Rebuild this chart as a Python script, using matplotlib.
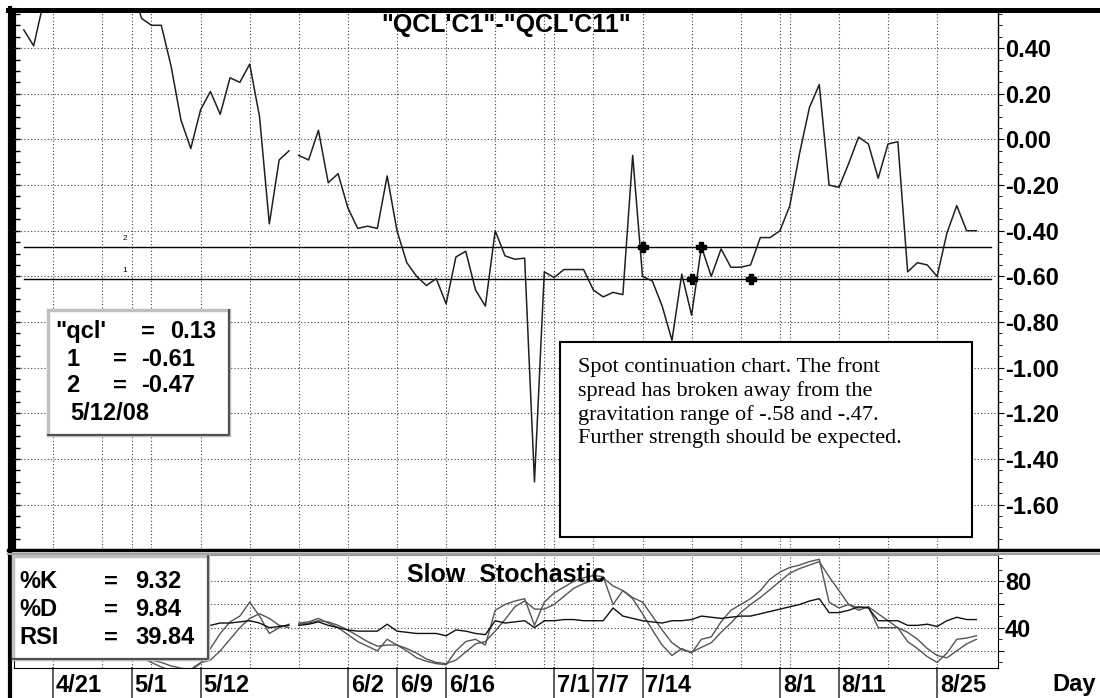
import numpy as np
import pandas as pd
import matplotlib
matplotlib.use("Agg")
import matplotlib.pyplot as plt
from matplotlib.patches import Rectangle
from matplotlib.lines import Line2D

plt.rcParams["font.family"] = ["Liberation Sans", "DejaVu Sans"]

# ---- data, one value per weekday 4/16/08 .. 8/29/08 ----
start_date, end_date = "2008-04-16", "2008-08-29"
gap_date = "2008-05-26"  # line is broken before this day

spread = [
    0.48, 0.41, 0.60, 0.72, 0.80, 0.85, 0.78, 0.82, 0.75, 0.80, 0.72, 0.66,
    0.53, 0.50, 0.50, 0.32, 0.085, -0.04, 0.13, 0.21, 0.11, 0.27, 0.25, 0.33,
    0.10, -0.37, -0.09, -0.05, -0.07, -0.09, 0.04, -0.19, -0.15, -0.30, -0.39, -0.38,
    -0.39, -0.16, -0.40, -0.54, -0.60, -0.64, -0.61, -0.72, -0.515, -0.49, -0.66, -0.73,
    -0.40, -0.51, -0.525, -0.52, -1.50, -0.58, -0.605, -0.57, -0.57, -0.57, -0.66, -0.69,
    -0.67, -0.68, -0.07, -0.60, -0.62, -0.73, -0.88, -0.59, -0.77, -0.47, -0.60, -0.48,
    -0.56, -0.56, -0.55, -0.43, -0.43, -0.40, -0.29, -0.06, 0.14, 0.24, -0.20, -0.21,
    -0.105, 0.01, -0.02, -0.17, -0.02, -0.01, -0.58, -0.54, -0.55, -0.60, -0.41, -0.29,
    -0.40, -0.40,
]

pct_k = [
    55, 60, 58, 62, 60, 55, 50, 45, 40, 35, 30, 22,
    14, 10, 6, 3, 2, 3, 9.32, 22, 35, 45, 50, 62,
    50, 35, 40, 43, 44, 45, 48, 44, 40, 34, 28, 24,
    20, 30, 25, 20, 14, 11, 9, 8, 20, 28, 30, 25,
    55, 60, 63, 65, 42, 62, 70, 75, 80, 83, 85, 84,
    60, 72, 65, 52, 38, 25, 16, 22, 18, 30, 32, 45,
    55, 60, 65, 72, 82, 88, 92, 94, 97, 99, 62, 57,
    60, 55, 58, 40, 40, 40, 28, 22, 15, 10, 18, 30,
    31, 33,
]

pct_d = [
    50, 55, 57, 60, 60, 59, 55, 50, 45, 40, 35, 28,
    16, 12, 10, 7, 5, 4, 9.84, 12, 20, 30, 40, 48,
    52, 48, 42, 40, 43, 44, 46, 45, 42, 38, 33, 28,
    24, 25, 25, 22, 18, 13, 10, 9, 12, 19, 26, 28,
    37, 47, 58, 63, 56, 56, 60, 67, 74, 78, 81, 83,
    76, 72, 66, 62, 50, 38, 27, 21, 19, 23, 27, 36,
    44, 53, 60, 66, 73, 80, 87, 91, 94, 97, 84, 72,
    60, 57, 58, 52, 46, 40, 36, 30, 22, 16, 14, 20,
    26, 30,
]

rsi = [
    55, 56, 57, 58, 57, 56, 55, 53, 52, 50, 48, 46,
    45, 44, 43, 42, 41, 40, 39.84, 42, 44, 44, 45, 46,
    44, 40, 41, 42, 42, 43, 45, 42, 40, 38, 37, 37,
    37, 43, 37, 36, 35, 35, 35, 33, 38, 37, 35, 34,
    46, 44, 45, 46, 40, 46, 46, 47, 47, 46, 46, 46,
    57, 50, 48, 46, 45, 44, 46, 46, 47, 50, 49, 48,
    49, 50, 50, 52, 54, 56, 58, 60, 63, 65, 53, 53,
    55, 58, 57, 46, 46, 46, 42, 42, 43, 41, 46, 49,
    47, 47,
]

level_1 = -0.61
level_2 = -0.47
signal_dates = ["2008-07-14", "2008-07-21", "2008-07-22", "2008-07-29"]
signal_levels = [-0.47, -0.61, -0.47, -0.61]

label_dates = ["2008-04-21", "2008-05-01", "2008-05-12", "2008-06-02", "2008-06-09",
               "2008-06-16", "2008-07-01", "2008-07-07", "2008-07-14", "2008-08-01",
               "2008-08-11", "2008-08-25"]
label_texts = ["4/21", "5/1", "5/12", "6/2", "6/9", "6/16", "7/1", "7/7", "7/14",
               "8/1", "8/11", "8/25"]

# ---- x positions: weekday index, 0 = 4/21 ----
dates = pd.bdate_range(start_date, end_date)
origin = dates.get_loc(pd.Timestamp("2008-04-21"))
xpos = np.arange(len(dates)) - origin
brk = dates.get_loc(pd.Timestamp(gap_date))


def day_x(d):
    return dates.get_loc(pd.Timestamp(d)) - origin


lab_x = [day_x(d) for d in label_dates]
mondays = [i - origin for i, d in enumerate(dates) if d.weekday() == 0]
grid_x = sorted(set(mondays) | set(lab_x))

W, H = 1100, 698


def fr(x0, y0, x1, y1):
    return [x0 / W, 1 - y1 / H, (x1 - x0) / W, (y1 - y0) / H]


fig = plt.figure(figsize=(W / 100, H / 100), dpi=100)
fig.patch.set_facecolor("white")

dots = (0, (1, 2))
bold = dict(fontweight="bold", fontsize=17)

# ---- main panel ----
ax = fig.add_axes(fr(14, 10, 998, 548))
for seg in (slice(0, brk), slice(brk, None)):
    ax.plot(xpos[seg], spread[seg], color="#202020", lw=1.1, zorder=3)
ax.plot([xpos[0], 95.5], [level_2, level_2], color="black", lw=1, zorder=2)
ax.plot([xpos[0], 95.5], [level_1, level_1], color="black", lw=1, zorder=2)
ax.text(7.3, level_2 + 0.02, "2", fontsize=6, ha="center", va="bottom")
ax.text(7.3, level_1 + 0.02, "1", fontsize=6, ha="center", va="bottom")
ax.plot([day_x(d) for d in signal_dates], signal_levels, ls="none", marker="P",
        ms=7, color="black", zorder=4)

ax.set_xlim(-4.0, 96.2)
ax.set_ylim(-1.79, 0.567)
ax.set_xticks(grid_x)
yt = np.round(np.arange(-1.6, 0.41, 0.2), 2)
ax.set_yticks(yt)
ax.set_yticklabels([f"{v + 0.0:.2f}" for v in yt], **bold)
ax.set_yticks(np.arange(-1.75, 0.56, 0.05), minor=True)
ax.yaxis.tick_right()
ax.tick_params(axis="x", length=0, labelbottom=False)
ax.tick_params(axis="y", which="major", length=4, pad=1)
ax.tick_params(axis="y", which="minor", length=3)
ax.grid(True, which="major", ls=dots, color="#404040", lw=0.8)
for s in ("top", "left", "bottom"):
    ax.spines[s].set_visible(False)
ax.spines["right"].set_linewidth(1)
left_ticks = ax.secondary_yaxis("left")
left_ticks.set_yticks(np.arange(-1.75, 0.56, 0.05))
left_ticks.set_yticklabels([])
left_ticks.tick_params(direction="in", length=4, width=1)
left_ticks.spines["left"].set_linewidth(3)
ax.text(0.5, 0.972, "\"QCL'C1\"-\"QCL'C11\"", transform=ax.transAxes,
        ha="center", va="center", fontweight="bold", fontsize=18)

# ---- stochastic panel ----
ax2 = fig.add_axes(fr(14, 555, 998, 668))
for seg in (slice(0, brk), slice(brk, None)):
    ax2.plot(xpos[seg], pct_k[seg], color="#555555", lw=1.0)
    ax2.plot(xpos[seg], pct_d[seg], color="#555555", lw=1.0)
    ax2.plot(xpos[seg], rsi[seg], color="#111111", lw=1.0)
ax2.set_xlim(-4.0, 96.2)
ax2.set_ylim(5.2, 102.7)
ax2.set_xticks(grid_x)
ax2.set_yticks([20, 40, 60, 80])
ax2.set_yticklabels(["", "40", "", "80"], **bold)
ax2.set_yticks(np.arange(10, 101, 10), minor=True)
ax2.yaxis.tick_right()
ax2.tick_params(axis="x", length=0, labelbottom=False)
ax2.tick_params(axis="y", which="major", length=4, pad=1)
ax2.tick_params(axis="y", which="minor", length=3)
ax2.grid(True, which="major", ls=dots, color="#404040", lw=0.8)
ax2.spines["top"].set_color("#909090")
ax2.spines["top"].set_linewidth(1.5)
ax2.text(0.5, 0.823, "Slow  Stochastic", transform=ax2.transAxes,
         ha="center", va="center", fontweight="bold", fontsize=18, zorder=4)

for xl, t in zip(lab_x, label_texts):
    ax2.axvline(xl, ymin=-0.27, ymax=0, color="#404040", lw=1.2, clip_on=False)
    ax2.annotate(t, (xl, 0), xycoords=("data", "axes fraction"), xytext=(2, -4),
                 textcoords="offset points", ha="left", va="top", **bold)
fig.text(1052 / W, 1 - 684 / H, "Day", ha="left", va="center", **bold)

# ---- frame lines ----
fig.add_artist(Line2D([0.007, 1], [1 - 9.5 / H] * 2, color="black", lw=3.6))
fig.add_artist(Line2D([10 / W] * 2, [0, 1 - 8 / H], color="black", lw=3))
fig.add_artist(Line2D([8 / W, 1], [1 - 550 / H] * 2, color="black", lw=2.5))
fig.add_artist(Line2D([8 / W, 1], [1 - 553.5 / H] * 2, color="#a0a0a0", lw=1.5))


def info_box(x0, y0, x1, y1):
    fig.add_artist(Rectangle((x0 / W, 1 - y1 / H), (x1 - x0) / W, (y1 - y0) / H,
                             transform=fig.transFigure, facecolor="white",
                             edgecolor="#c0c0c0", lw=2.5, zorder=5))
    fig.add_artist(Line2D([x0 / W, x1 / W, x1 / W], [1 - y1 / H, 1 - y1 / H, 1 - y0 / H],
                          color="#505050", lw=1.5, zorder=6))


# main read-out box
info_box(48, 310, 229, 435)
rows = [('"qcl\'', "=", "0.13", 55, 141, 170),
        ("1", "=", "-0.61", 66, 113, 141),
        ("2", "=", "-0.47", 66, 113, 141)]
for i, (a, b, c, xa, xb, xc) in enumerate(rows):
    yy = 1 - (332 + 27 * i) / H
    for s, xx in ((a, xa), (b, xb), (c, xc)):
        fig.text(xx / W, yy, s, va="center", zorder=7, **bold)
fig.text(70 / W, 1 - 413 / H, "5/12/08", va="center", zorder=7, **bold)

# stochastic read-out box
info_box(13, 556, 208, 659)
for i, (a, c) in enumerate([("%K", "9.32"), ("%D", "9.84"), ("RSI", "39.84")]):
    yy = 1 - (582 + 28 * i) / H
    fig.text(19 / W, yy, a, va="center", zorder=7, **bold)
    fig.text(104 / W, yy, "=", va="center", zorder=7, **bold)
    fig.text(135 / W, yy, c, va="center", zorder=7, **bold)

# comment box
fig.add_artist(Rectangle((560 / W, 1 - 537 / H), 412 / W, 195 / H,
                         transform=fig.transFigure, facecolor="white",
                         edgecolor="black", lw=1.5, zorder=5))
note = ("Spot continuation chart. The front\n"
        "spread has broken away from the\n"
        "gravitation range of -.58 and -.47.\n"
        "Further strength should be expected.")
fig.text(578 / W, 1 - 357 / H, note, family=["Liberation Serif", "DejaVu Serif"],
         fontsize=16, va="top", ha="left", linespacing=1.28, zorder=7)

fig.savefig("out.png", dpi=100)
